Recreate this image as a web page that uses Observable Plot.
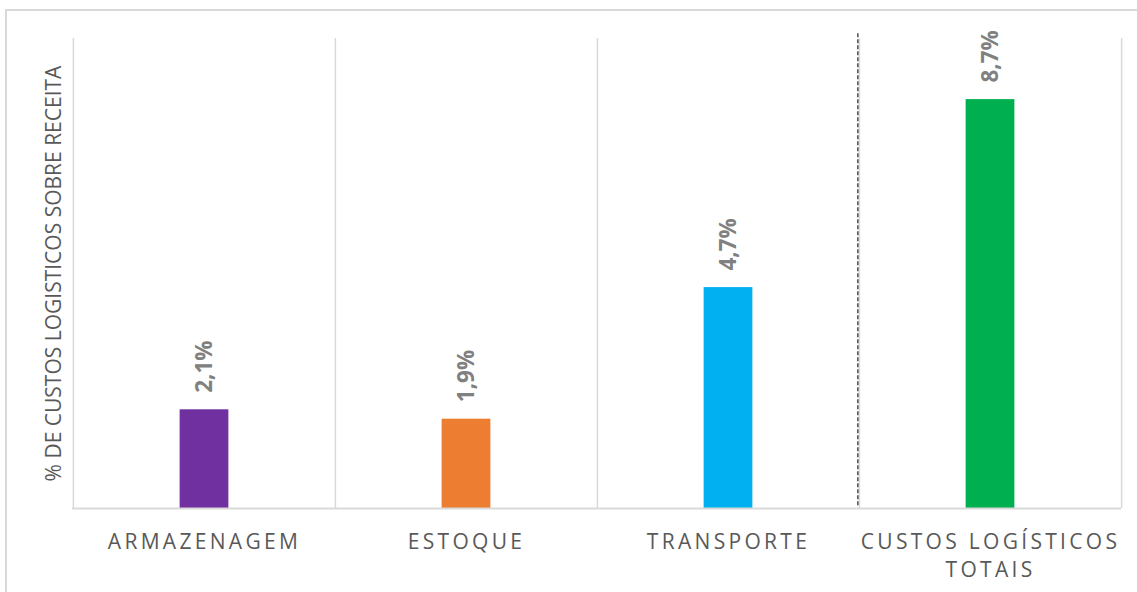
<!DOCTYPE html>
<html>
<head>
<meta charset="utf-8">
<script src="https://cdn.jsdelivr.net/npm/d3@7"></script>
<script src="https://cdn.jsdelivr.net/npm/@observablehq/plot@0.6"></script>
<style>
  html, body { margin: 0; padding: 0; background: #fff; overflow: hidden; }
  #frame { position: absolute; left: 5px; top: 9px; width: 1200px; height: 700px; border: 2px solid #d9d9d9; box-sizing: border-box; }
  #chart { position: absolute; left: 0; top: 0; }
  #chart svg g[aria-label="x-axis tick label"] text { letter-spacing: 3.3px; }
</style>
</head>
<body>
<div id="frame"></div>
<div id="chart"></div>
<script>
const categories = ["ARMAZENAGEM", "ESTOQUE", "TRANSPORTE", "CUSTOS LOGÍSTICOS TOTAIS"];
const tickLabels = ["ARMAZENAGEM", "ESTOQUE", "TRANSPORTE", "CUSTOS LOGÍSTICOS\nTOTAIS"];
const values = [2.1, 1.9, 4.7, 8.7];
const valueLabels = ["2,1%", "1,9%", "4,7%", "8,7%"];
const colors = ["#7030a0", "#ed7d31", "#00b0f0", "#00b050"];
const yLabel = "% DE CUSTOS LOGISTICOS SOBRE RECEITA";

const data = categories.map((c, i) => ({cat: c, value: values[i], label: valueLabels[i], color: colors[i]}));
const labelOf = new Map(categories.map((c, i) => [c, tickLabels[i]]));

const W = 1137, H = 592;
const mL = 72, mR = 16, mT = 38, mB = 84;
const step = (W - mL - mR) / categories.length;

const chart = Plot.plot({
  width: W,
  height: H,
  marginLeft: mL,
  marginRight: mR,
  marginTop: mT,
  marginBottom: mB,
  style: {background: "transparent", fontFamily: "'Open Sans', sans-serif", overflow: "visible"},
  x: {type: "band", domain: categories, padding: 0, axis: null},
  y: {domain: [0, 10], axis: null},
  marks: [
    Plot.ruleX(categories, {x: d => d, dx: -step / 2, y1: 0, y2: 10, stroke: "#d9d9d9", strokeWidth: 1.5}),
    Plot.ruleX([categories[categories.length - 1]], {x: d => d, dx: step / 2, y1: 0, y2: 10, stroke: "#d9d9d9", strokeWidth: 1.5}),
    Plot.ruleX([categories[categories.length - 1]], {x: d => d, dx: -step / 2 - 1.5, y1: 0.06, y2: 10.11, stroke: "#222", strokeWidth: 1.2, strokeDasharray: "4,2"}),
    Plot.barY(data, {x: "cat", y: "value", fill: "color", insetLeft: (step - 49) / 2, insetRight: (step - 49) / 2}),
    Plot.ruleY([0], {stroke: "#d9d9d9", strokeWidth: 2}),
    Plot.text(data, {x: "cat", y: "value", text: "label", rotate: -90, textAnchor: "start", lineAnchor: "middle", dy: -17, fill: "#808080", fontWeight: "bold", fontSize: 22.5}),
    Plot.axisX({domain: categories, tickSize: 0, tickPadding: 20, tickFormat: d => labelOf.get(d), fontSize: 21, fill: "#595959", lineHeight: 1.36, label: null}),
    Plot.text([yLabel], {frameAnchor: "left", text: d => d, rotate: -90, dx: -18, textAnchor: "middle", lineAnchor: "middle", fill: "#595959", fontSize: 21})
  ]
});
document.getElementById("chart").append(chart);
</script>
</body>
</html>
